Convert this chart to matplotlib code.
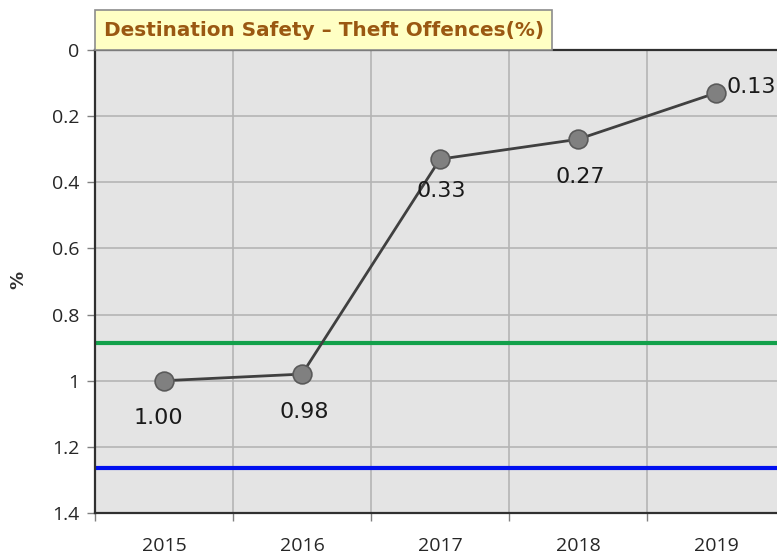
import matplotlib

matplotlib.use("Agg")
import matplotlib.pyplot as plt
from matplotlib.patches import Rectangle

years = ["2015", "2016", "2017", "2018", "2019"]
theft_pct = [1.00, 0.98, 0.33, 0.27, 0.13]
label_text = ["1.00", "0.98", "0.33", "0.27", "0.13"]
green_level = 0.887
blue_level = 1.265
y_ticks = [0, 0.2, 0.4, 0.6, 0.8, 1.0, 1.2, 1.4]
y_tick_labels = ["0", "0.2", "0.4", "0.6", "0.8", "1", "1.2", "1.4"]

BG = "#e4e4e4"
GRID = "#b4b4b4"
TITLE_COLOR = "#9a5812"

fig = plt.figure(figsize=(7.77, 5.59), dpi=100)
ax = fig.add_axes([95 / 777, 46 / 559, 690 / 777, 463 / 559])
ax.set_facecolor(BG)

x = list(range(len(years)))
ax.axhline(green_level, color="#12a04a", lw=3, zorder=2)
ax.axhline(blue_level, color="#0010f0", lw=3, zorder=2)
ax.plot(x, theft_pct, color="#404040", lw=2, marker="o", ms=13.5,
        mfc="#808080", mec="#5a5a5a", mew=1.2, zorder=3)

# label offsets in points (dx, dy) + alignment
offsets = [(-4.3, -26.6, "center"), (1.5, -27, "center"), (0.7, -23, "center"),
           (1.5, -27, "center"), (7.5, 4.3, "left")]
for xi, yi, txt, (dx, dy, ha) in zip(x, theft_pct, label_text, offsets):
    ax.annotate(txt, (xi, yi), xytext=(dx, dy), textcoords="offset points",
                ha=ha, va="center", fontsize=16, color="#1a1a1a")

ax.set_xlim(-0.5, 4.5)
ax.set_ylim(1.4, 0)
ax.set_yticks(y_ticks)
ax.set_yticklabels(y_tick_labels)
ax.set_xticks([i + 0.5 for i in range(-1, 5)])
ax.set_xticklabels([])
ax.set_xticks(x, minor=True)
ax.set_xticklabels(years, minor=True)
ax.tick_params(axis="x", which="minor", length=0, pad=17)
ax.tick_params(axis="x", which="major", length=6, width=1, color="#808080",
               direction="out")
ax.tick_params(axis="y", length=6, width=1, color="#808080", pad=5)
for lab in ax.get_xticklabels(minor=True) + ax.get_yticklabels():
    lab.set_fontfamily("Open Sans")
    lab.set_fontsize(14)
    lab.set_color("#262626")

ax.grid(True, which="major", color=GRID, lw=1.2, zorder=0)
ax.set_axisbelow(True)
for s in ax.spines.values():
    s.set_color("#303030")
    s.set_linewidth(1.6)

fig.text(18 / 777, 1 - 280 / 559, "%", rotation=90, ha="center", va="center",
         fontsize=13, fontweight="bold", color="#303030")

# title box
box = Rectangle((95 / 777, 1 - 50 / 559), 457 / 777, 40 / 559,
                transform=fig.transFigure, facecolor="#ffffc4",
                edgecolor="#8c8c8c", lw=1.2, zorder=5)
fig.patches.append(box)
fig.text(324 / 777, 1 - 31 / 559, "Destination Safety \u2013 Theft Offences(%)",
         ha="center", va="center", fontsize=14.4, fontweight="bold",
         color=TITLE_COLOR, zorder=6)

fig.savefig("out.png", dpi=100)
